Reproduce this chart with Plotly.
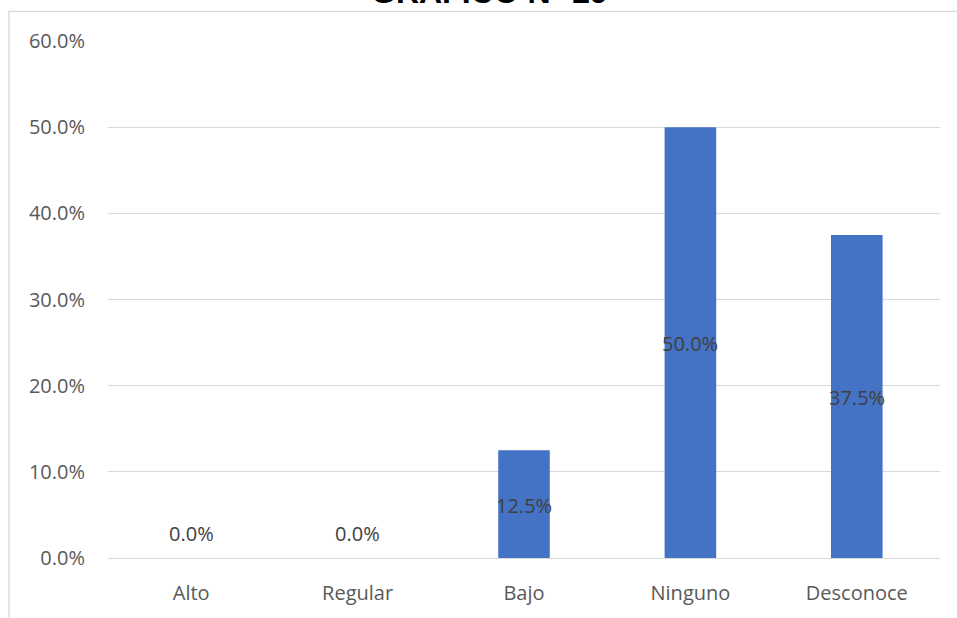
import plotly.graph_objects as go

# Survey result shares per category
categories = ["Alto", "Regular", "Bajo", "Ninguno", "Desconoce"]
shares = [0.0, 0.0, 0.125, 0.50, 0.375]
y_ticks = [0.0, 0.1, 0.2, 0.3, 0.4, 0.5, 0.6]
title_text = "GRÁFICO N° 29"

BAR_COLOR = "#4472C4"
GRID_COLOR = "#D9D9D9"
TEXT_COLOR = "#595959"
LABEL_COLOR = "#404040"
FONT = "Open Sans, sans-serif"

fig = go.Figure(
    go.Bar(
        x=categories,
        y=shares,
        marker=dict(color=BAR_COLOR, line=dict(width=0)),
        width=0.31,
        hoverinfo="skip",
    )
)

# Value labels centred on each bar; empty bars get the label just above the baseline
annotations = []
for cat, v in zip(categories, shares):
    annotations.append(
        dict(
            x=cat,
            y=v / 2,
            xref="x",
            yref="y",
            text=f"{v * 100:.1f}%",
            showarrow=False,
            yanchor="middle",
            yshift=25 if v == 0 else -1,
            font=dict(family=FONT, size=20, color=LABEL_COLOR),
        )
    )

# Chart title, partly cut by the top edge of the canvas
annotations.append(
    dict(
        x=0.459,
        y=1.0554,
        xref="paper",
        yref="paper",
        text=f"<b>{title_text}</b>",
        showarrow=False,
        xanchor="center",
        yanchor="bottom",
        font=dict(family="Liberation Sans, Arial, sans-serif", size=32, color="#000000"),
    )
)

fig.update_layout(
    width=957,
    height=618,
    margin=dict(l=108, r=17, t=41, b=54),
    paper_bgcolor="white",
    plot_bgcolor="white",
    showlegend=False,
    annotations=annotations,
    shapes=[
        dict(
            type="rect",
            xref="paper",
            yref="paper",
            x0=-0.119,
            x1=1.2,
            y0=-0.3,
            y1=1.0574,
            line=dict(color=GRID_COLOR, width=1.3),
            fillcolor="rgba(0,0,0,0)",
            layer="below",
        )
    ],
    xaxis=dict(
        showgrid=False,
        showline=False,
        zeroline=False,
        ticks="",
        tickfont=dict(family=FONT, size=20, color=TEXT_COLOR),
        ticklabelstandoff=21,
    ),
    yaxis=dict(
        range=[0, 0.6],
        tickvals=y_ticks,
        ticktext=[f"{t * 100:.1f}%" for t in y_ticks],
        showgrid=True,
        gridcolor=GRID_COLOR,
        gridwidth=1,
        zeroline=True,
        zerolinecolor=GRID_COLOR,
        zerolinewidth=1,
        showline=False,
        ticks="",
        tickfont=dict(family=FONT, size=20, color=TEXT_COLOR),
        ticklabelstandoff=22,
    ),
)

fig.write_html("out.html")
